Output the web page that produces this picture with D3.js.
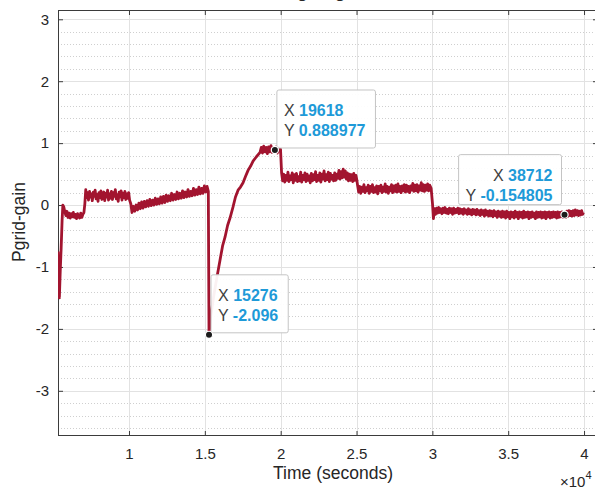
<!DOCTYPE html>
<html>
<head>
<meta charset="utf-8">
<script src="https://cdn.jsdelivr.net/npm/d3@7"></script>
<style>
  html, body { margin: 0; padding: 0; background: #fff; overflow: hidden; }
  svg { display: block; font-family: 'Liberation Sans', Arial, sans-serif; }
</style>
</head>
<body>
<div id="chart"></div>
<script>
// trace segments, [time (s), gain]
const startDip = [
  [5320, -0.75], [5350, -1.12], [5410, -1.5], [5470, -1.05], [5530, -0.68], [5590, -0.25], [5640, 0.0], [5700, -0.03],
  [5770, -0.11], [5840, -0.17], [5910, -0.1], [5980, -0.2], [6050, -0.13], [6120, -0.21], [6190, -0.14], [6260, -0.19],
  [6330, -0.12], [6400, -0.2], [6470, -0.15], [6540, -0.22], [6610, -0.14], [6680, -0.19], [6750, -0.21], [6820, -0.13],
  [6890, -0.2], [6960, -0.15], [7030, -0.12]
];
const firstPlateau = [
  [7090, 0.02], [7150, 0.25], [7210, 0.12], [7270, 0.2], [7330, 0.08], [7400, 0.22], [7460, 0.13], [7520, 0.18],
  [7580, 0.07], [7650, 0.21], [7710, 0.14], [7770, 0.24], [7830, 0.1], [7900, 0.17], [7960, 0.06], [8020, 0.2],
  [8080, 0.12], [8150, 0.23], [8210, 0.09], [8270, 0.16], [8340, 0.21], [8400, 0.07], [8460, 0.19], [8530, 0.13],
  [8590, 0.24], [8650, 0.08], [8720, 0.18], [8780, 0.11], [8840, 0.22], [8910, 0.09], [8970, 0.2], [9030, 0.14],
  [9100, 0.25], [9160, 0.1], [9220, 0.17], [9290, 0.06], [9350, 0.21], [9410, 0.13], [9480, 0.23], [9540, 0.08],
  [9600, 0.19], [9670, 0.12], [9730, 0.22], [9790, 0.09], [9860, 0.18], [9920, 0.11], [9980, 0.2], [10040, 0.08]
];
const slowRise = [
  [10120, 0.02], [10200, -0.12], [10290, -0.02], [10380, -0.1], [10470, 0.0], [10560, -0.08], [10650, 0.03], [10740, -0.06],
  [10830, 0.05], [10920, -0.05], [11010, 0.06], [11100, -0.03], [11190, 0.07], [11280, -0.02], [11370, 0.09], [11460, -0.01],
  [11550, 0.08], [11640, 0.0], [11730, 0.11], [11820, 0.01], [11910, 0.1], [12000, 0.02], [12090, 0.13], [12180, 0.03],
  [12270, 0.14], [12360, 0.04], [12450, 0.16], [12540, 0.06], [12630, 0.15], [12720, 0.07], [12810, 0.19], [12900, 0.08],
  [12990, 0.17], [13080, 0.09], [13170, 0.21], [13260, 0.1], [13350, 0.19], [13440, 0.11], [13530, 0.23], [13620, 0.12],
  [13710, 0.21], [13800, 0.13], [13890, 0.25], [13980, 0.14], [14070, 0.22], [14160, 0.15], [14250, 0.27], [14340, 0.16],
  [14430, 0.25], [14520, 0.17], [14610, 0.29], [14700, 0.18], [14790, 0.27], [14880, 0.19], [14970, 0.31], [15060, 0.21],
  [15150, 0.3]
];
const recovery = [
  [15230, 0.22], [15276, -2.096], [15400, -1.78], [15600, -1.45], [15802, -1.16], [16000, -0.89], [16170, -0.66], [16330, -0.52],
  [16500, -0.33], [16660, -0.21], [16860, -0.03], [17020, 0.13], [17190, 0.24], [17350, 0.29], [17520, 0.36], [17680, 0.46],
  [17850, 0.56], [18020, 0.63], [18180, 0.71], [18400, 0.78], [18640, 0.85], [18720, 0.93], [18800, 0.84], [18880, 0.95],
  [18960, 0.86], [19040, 0.93], [19120, 0.83], [19200, 0.94], [19280, 0.86], [19360, 0.96], [19440, 0.85], [19530, 0.93],
  [19618, 0.888977], [19700, 0.94], [19780, 0.84], [19860, 0.93], [19940, 0.87], [19990, 0.9]
];
const midPlateau = [
  [20060, 0.52], [20130, 0.39], [20200, 0.5], [20270, 0.37], [20340, 0.48], [20410, 0.4], [20480, 0.53], [20550, 0.38],
  [20620, 0.47], [20690, 0.41], [20760, 0.52], [20830, 0.36], [20900, 0.49], [20970, 0.4], [21040, 0.51], [21110, 0.38],
  [21180, 0.46], [21250, 0.39], [21320, 0.53], [21390, 0.37], [21460, 0.48], [21530, 0.41], [21600, 0.52], [21670, 0.38],
  [21740, 0.5], [21810, 0.4], [21880, 0.47], [21950, 0.36], [22020, 0.51], [22090, 0.39], [22160, 0.49], [22230, 0.41],
  [22300, 0.54], [22370, 0.38], [22440, 0.48], [22510, 0.4], [22580, 0.52], [22650, 0.37], [22720, 0.5], [22790, 0.42],
  [22860, 0.55], [22930, 0.39], [23000, 0.49], [23070, 0.41], [23140, 0.53], [23210, 0.38], [23280, 0.51], [23350, 0.42],
  [23420, 0.48], [23490, 0.39], [23560, 0.52], [23630, 0.4], [23700, 0.5], [23770, 0.43], [23840, 0.56], [23910, 0.42],
  [23980, 0.54], [24050, 0.44], [24120, 0.58], [24190, 0.45], [24260, 0.55], [24330, 0.42], [24400, 0.52], [24470, 0.39],
  [24540, 0.5], [24610, 0.4], [24680, 0.49], [24750, 0.38], [24820, 0.51], [24890, 0.4], [24960, 0.48], [25010, 0.42]
];
const lowPlateau = [
  [25070, 0.32], [25140, 0.21], [25210, 0.3], [25280, 0.19], [25350, 0.29], [25420, 0.22], [25490, 0.33], [25560, 0.2],
  [25630, 0.28], [25700, 0.23], [25770, 0.32], [25840, 0.19], [25910, 0.3], [25980, 0.22], [26050, 0.33], [26120, 0.2],
  [26190, 0.28], [26260, 0.21], [26330, 0.31], [26400, 0.18], [26470, 0.3], [26540, 0.23], [26610, 0.32], [26680, 0.2],
  [26750, 0.29], [26820, 0.22], [26890, 0.34], [26960, 0.21], [27030, 0.3], [27100, 0.19], [27170, 0.29], [27240, 0.23],
  [27310, 0.33], [27380, 0.2], [27450, 0.31], [27520, 0.22], [27590, 0.32], [27660, 0.21], [27730, 0.34], [27800, 0.22],
  [27870, 0.3], [27940, 0.2], [28010, 0.31], [28080, 0.23], [28150, 0.33], [28220, 0.21], [28290, 0.32], [28360, 0.22],
  [28430, 0.3], [28500, 0.2], [28570, 0.31], [28640, 0.24], [28710, 0.35], [28780, 0.22], [28850, 0.32], [28920, 0.23],
  [28990, 0.33], [29060, 0.21], [29130, 0.31], [29200, 0.24], [29270, 0.36], [29340, 0.23], [29410, 0.33], [29480, 0.22],
  [29550, 0.32], [29620, 0.24], [29690, 0.34], [29760, 0.23], [29830, 0.32], [29920, 0.27]
];
const tail = [
  [30010, 0.02], [30070, -0.22], [30140, -0.06], [30210, -0.15], [30280, -0.05], [30350, -0.13], [30420, -0.04], [30490, -0.12],
  [30560, -0.06], [30630, -0.14], [30700, -0.05], [30770, -0.12], [30840, -0.04], [30910, -0.13], [30980, -0.07], [31050, -0.14],
  [31120, -0.05], [31190, -0.12], [31260, -0.06], [31330, -0.15], [31400, -0.05], [31470, -0.13], [31540, -0.07], [31610, -0.12],
  [31680, -0.05], [31750, -0.14], [31820, -0.06], [31890, -0.13], [31960, -0.07], [32030, -0.15], [32100, -0.06], [32170, -0.13],
  [32240, -0.08], [32310, -0.15], [32380, -0.06], [32450, -0.14], [32520, -0.08], [32590, -0.16], [32660, -0.07], [32730, -0.14],
  [32800, -0.08], [32870, -0.16], [32940, -0.07], [33010, -0.15], [33080, -0.09], [33150, -0.17], [33220, -0.08], [33290, -0.15],
  [33360, -0.09], [33430, -0.18], [33500, -0.08], [33570, -0.16], [33640, -0.1], [33710, -0.18], [33780, -0.09], [33850, -0.17],
  [33920, -0.1], [33990, -0.19], [34060, -0.09], [34130, -0.17], [34200, -0.11], [34270, -0.2], [34340, -0.1], [34410, -0.18],
  [34480, -0.11], [34550, -0.2], [34620, -0.1], [34690, -0.19], [34760, -0.11], [34830, -0.21], [34900, -0.1], [34970, -0.19],
  [35040, -0.12], [35110, -0.22], [35180, -0.11], [35250, -0.19], [35320, -0.12], [35390, -0.21], [35460, -0.1], [35530, -0.19],
  [35600, -0.12], [35670, -0.22], [35740, -0.11], [35810, -0.19], [35880, -0.12], [35950, -0.21], [36020, -0.1], [36090, -0.2],
  [36160, -0.12], [36230, -0.19], [36300, -0.11], [36370, -0.22], [36440, -0.12], [36510, -0.2], [36580, -0.11], [36650, -0.19],
  [36720, -0.13], [36790, -0.22], [36860, -0.11], [36930, -0.2], [37000, -0.12], [37070, -0.19], [37140, -0.11], [37210, -0.21],
  [37280, -0.12], [37350, -0.2], [37420, -0.11], [37490, -0.22], [37560, -0.12], [37630, -0.19], [37700, -0.11], [37770, -0.21],
  [37840, -0.12], [37910, -0.2], [37980, -0.11], [38050, -0.19], [38120, -0.12], [38190, -0.21], [38260, -0.11], [38330, -0.2],
  [38400, -0.12], [38470, -0.19], [38540, -0.11], [38620, -0.2], [38712, -0.154805], [38790, -0.2], [38860, -0.1], [38930, -0.18],
  [39000, -0.09], [39070, -0.17], [39140, -0.1], [39210, -0.18], [39280, -0.09], [39350, -0.17], [39420, -0.08], [39490, -0.16],
  [39560, -0.09], [39630, -0.17], [39700, -0.1], [39770, -0.16], [39840, -0.09], [39910, -0.15], [39960, -0.12]
];

const tipTimes = [15276, 19618, 38712];
const tipValues = [-2.096, 0.888977, -0.154805];

const xTickValues = [10000, 15000, 20000, 25000, 30000, 35000, 40000];
const xTickLabels = ['1', '1.5', '2', '2.5', '3', '3.5', '4'];
const yTickValues = [-3, -2, -1, 0, 1, 2, 3];

const trace = [].concat(startDip, firstPlateau, slowRise, recovery, midPlateau, lowPlateau, tail);

const width = 595;
const height = 491;
const margin = { top: 10, right: -3, bottom: 55, left: 58 };
const innerWidth = width - margin.left - margin.right;
const innerHeight = height - margin.top - margin.bottom;

const svg = d3
  .select('#chart')
  .append('svg')
  .attr('width', width)
  .attr('height', height);

const xScale = d3.scaleLinear().domain([5320, 40920]).range([0, innerWidth]);
const yScale = d3.scaleLinear().domain([-3.73, 3.15]).range([innerHeight, 0]);

svg
  .append('defs')
  .append('clipPath')
  .attr('id', 'plot-clip')
  .append('rect')
  .attr('width', innerWidth)
  .attr('height', innerHeight);

const group = svg
  .append('g')
  .attr('transform', `translate(${margin.left}, ${margin.top})`);

// grid
const minorY = d3.range(-3.6, 3.1, 0.2).filter(v => Math.abs(v - Math.round(v)) > 0.01);

group
  .append('g')
  .selectAll('line')
  .data(minorY)
  .enter()
  .append('line')
  .attr('x1', 0)
  .attr('x2', innerWidth)
  .attr('y1', d => Math.round(yScale(d)) + 0.5)
  .attr('y2', d => Math.round(yScale(d)) + 0.5)
  .attr('stroke', '#cfcfcf')
  .attr('stroke-dasharray', '1,2');

group
  .append('g')
  .selectAll('line')
  .data(yTickValues)
  .enter()
  .append('line')
  .attr('x1', 0)
  .attr('x2', innerWidth)
  .attr('y1', d => Math.round(yScale(d)) + 0.5)
  .attr('y2', d => Math.round(yScale(d)) + 0.5)
  .attr('stroke', '#e2e2e2');

group
  .append('g')
  .selectAll('line')
  .data(xTickValues)
  .enter()
  .append('line')
  .attr('x1', d => Math.round(xScale(d)) + 0.5)
  .attr('x2', d => Math.round(xScale(d)) + 0.5)
  .attr('y1', 0)
  .attr('y2', innerHeight)
  .attr('stroke', '#e2e2e2');

// axes
const styleAxis = g => {
  g.select('.domain').remove();
  g.selectAll('.tick line').attr('stroke', '#3b3b3b');
  g.selectAll('.tick text')
    .attr('fill', '#262626')
    .style('font-size', '15px')
    .style('font-family', "'Liberation Sans', Arial, sans-serif");
};

group
  .append('g')
  .attr('transform', `translate(0, ${innerHeight})`)
  .call(
    d3.axisBottom(xScale)
      .tickValues(xTickValues)
      .tickSize(-5)
      .tickPadding(12)
      .tickFormat((d, i) => xTickLabels[i])
  )
  .call(styleAxis);

group
  .append('g')
  .call(d3.axisTop(xScale).tickValues(xTickValues).tickSize(-5))
  .call(styleAxis)
  .call(g => g.selectAll('.tick text').remove());

group
  .append('g')
  .call(
    d3.axisLeft(yScale)
      .tickValues(yTickValues)
      .tickSize(-5)
      .tickPadding(9)
      .tickFormat(d => String(d))
  )
  .call(styleAxis);

group
  .append('g')
  .attr('transform', `translate(${innerWidth}, 0)`)
  .call(d3.axisRight(yScale).tickValues(yTickValues).tickSize(-5))
  .call(styleAxis)
  .call(g => g.selectAll('.tick text').remove());

group
  .append('rect')
  .attr('x', 0.5)
  .attr('y', 0.5)
  .attr('width', innerWidth - 1)
  .attr('height', innerHeight - 1)
  .attr('fill', 'none')
  .attr('stroke', '#3b3b3b');

// trace
const line = d3
  .line()
  .x(d => xScale(d[0]))
  .y(d => yScale(d[1]));

group
  .append('path')
  .datum(trace)
  .attr('clip-path', 'url(#plot-clip)')
  .attr('d', line)
  .attr('fill', 'none')
  .attr('stroke', '#A2142F')
  .attr('stroke-width', 2.8)
  .attr('stroke-linejoin', 'round');

// data tips
const tips = tipTimes.map((t, i) => ({ t, v: tipValues[i], right: i < 2 }));

tips.forEach((tip, i) => {
  const mx = xScale(tip.t);
  const my = yScale(tip.v);
  const boxTop = my - 60;
  const boxHeight = i < 2 ? 58 : 50;
  const tipGroup = group.append('g');

  const box = tipGroup
    .append('rect')
    .attr('y', boxTop)
    .attr('height', boxHeight)
    .attr('rx', 2)
    .attr('fill', 'rgba(255,255,255,0.94)')
    .attr('stroke', '#c4c4c4');

  const rows = [['X', tip.t], ['Y', tip.v]];
  const texts = rows.map((row, r) => {
    const text = tipGroup
      .append('text')
      .attr('y', boxTop + 26 + r * 20)
      .style('font-size', '16px');
    text.append('tspan').attr('fill', '#404040').text(row[0] + ' ');
    text.append('tspan').attr('fill', '#1e9ad8').attr('font-weight', 'bold').text(String(row[1]));
    return text;
  });
  const textWidth = d3.max(texts, t => t.node().getComputedTextLength());

  if (tip.right) {
    const boxLeft = mx + 2;
    box.attr('x', boxLeft).attr('width', textWidth + 17);
    texts.forEach(t => t.attr('x', boxLeft + 7));
  } else {
    const boxRight = mx - 3;
    box.attr('x', boxRight - textWidth - 16).attr('width', textWidth + 16);
    texts.forEach(t => t.attr('x', boxRight - 9).attr('text-anchor', 'end'));
  }

  tipGroup
    .append('circle')
    .attr('cx', mx)
    .attr('cy', my)
    .attr('r', 3.6)
    .attr('fill', '#1c1c1c')
    .attr('stroke', '#ffffff')
    .attr('stroke-width', 1.2);
});

// labels
svg
  .append('text')
  .attr('x', 328)
  .attr('y', -2)
  .attr('text-anchor', 'middle')
  .attr('font-weight', 'bold')
  .attr('fill', '#262626')
  .style('font-size', '17px')
  .text('Pgrid-gain');

svg
  .append('text')
  .attr('x', 333)
  .attr('y', 479)
  .attr('text-anchor', 'middle')
  .attr('fill', '#262626')
  .style('font-size', '17.5px')
  .text('Time (seconds)');

svg
  .append('text')
  .attr('transform', 'translate(25, 222) rotate(-90)')
  .attr('text-anchor', 'middle')
  .attr('fill', '#262626')
  .style('font-size', '17.5px')
  .text('Pgrid-gain');

const expo = svg
  .append('text')
  .attr('x', 560)
  .attr('y', 487)
  .attr('fill', '#262626')
  .style('font-size', '15px');
expo.append('tspan').text('\u00d710');
expo.append('tspan').attr('dy', -8).style('font-size', '11px').text('4');
</script>
</body>
</html>
